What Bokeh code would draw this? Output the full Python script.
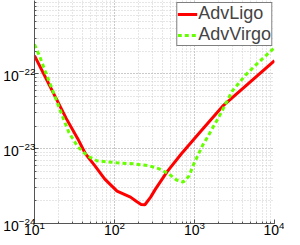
from bokeh.plotting import figure
from bokeh.models import Range1d, Legend, LegendItem
from bokeh.embed import file_html
from bokeh.resources import INLINE

# Data (frequency [Hz], strain sensitivity)
ligo_f = [10, 24.9, 34.7, 43.3, 57.0, 75.2, 107.6, 158.5, 187, 215, 240, 283, 325, 453, 686, 1191, 2249, 10000]
ligo_h = [1.75e-22, 2.54e-23, 1.36e-23, 8.55e-24, 5.89e-24, 3.94e-24, 2.71e-24, 2.25e-24,
          1.98e-24, 1.80e-24, 1.78e-24, 2.25e-24, 2.88e-24, 4.89e-24, 8.55e-24, 1.70e-23, 3.70e-23, 1.50e-22]

virgo_f = [10, 11.5, 13.55, 17.9, 22.9, 27.0, 34.7, 45.7, 60.3, 107.6, 172, 275, 363, 479, 597,
           724, 855, 982, 1259, 1445, 2070, 2965, 4365, 6252, 10000]
virgo_h = [2.47e-22, 1.75e-22, 1.10e-22, 5.05e-23, 2.54e-23, 1.64e-23, 1.06e-23, 8.04e-24,
           6.89e-24, 6.47e-24, 6.27e-24, 5.89e-24, 5.37e-24, 4.59e-24, 3.81e-24, 3.58e-24,
           4.32e-24, 6.27e-24, 1.10e-23, 1.41e-23, 2.79e-23, 5.89e-23, 9.68e-23, 1.41e-22, 2.24e-22]

labels = ["AdvLigo", "AdvVirgo"]

p = figure(width=284, height=237, x_axis_type="log", y_axis_type="log",
           x_range=Range1d(10, 1e4), y_range=Range1d(1e-24, 10 ** -21.02),
           output_backend="svg", toolbar_location=None,
           min_border_left=20, min_border_right=10, min_border_top=0, min_border_bottom=12)
p.outline_line_color = None
p.background_fill_color = "white"

r1 = p.line(ligo_f, ligo_h, line_color="#ff0000", line_width=3)
r2 = p.line(virgo_f, virgo_h, line_color="#66ff00", line_width=3, line_dash="4 3")

for g in (p.xgrid, p.ygrid):
    g.grid_line_color = "#bbbbbb"
    g.grid_line_dash = "1 2"
    g.grid_line_width = 1
    g.minor_grid_line_color = "#cccccc"
    g.minor_grid_line_dash = "1 2"

for ax in (p.xaxis, p.yaxis):
    ax.axis_line_color = "#555555"
    ax.major_tick_line_color = "#555555"
    ax.minor_tick_line_color = "#555555"
    ax.major_tick_in = 4
    ax.major_tick_out = 0
    ax.minor_tick_in = 2
    ax.minor_tick_out = 0
    ax.major_label_text_font = "Liberation Sans"
    ax.major_label_text_font_size = "14px"
    ax.major_label_text_color = "black"
p.xaxis.major_label_standoff = -3
p.yaxis.major_label_standoff = -1

legend = Legend(items=[LegendItem(label=labels[0], renderers=[r1]),
                       LegendItem(label=labels[1], renderers=[r2])],
                location="top_right")
legend.label_text_font = "Liberation Sans"
legend.label_text_font_size = "18px"
legend.border_line_color = "black"
legend.border_line_width = 1
legend.background_fill_alpha = 1
legend.padding = 0
legend.spacing = 0
legend.margin = 2
legend.glyph_width = 20
legend.label_standoff = 1
legend.label_height = 12
legend.glyph_height = 12
p.add_layout(legend)

open("out.html", "w").write(file_html(p, INLINE))
